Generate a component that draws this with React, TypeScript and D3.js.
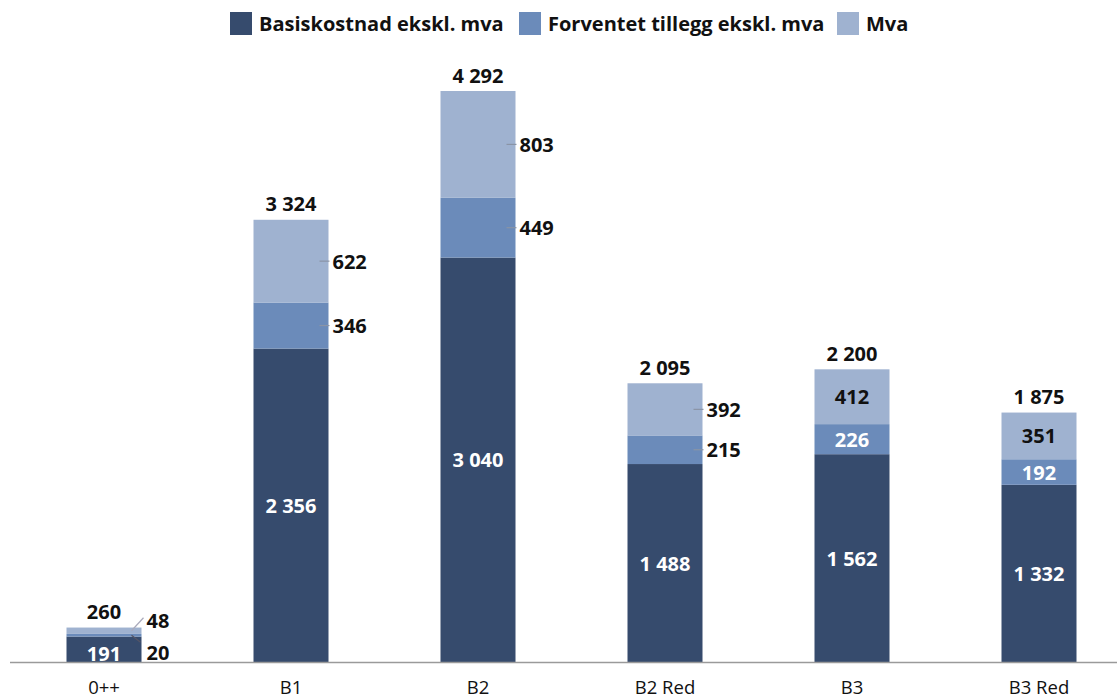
import React from "react";
import * as d3 from "d3";

const categories = ["0++", "B1", "B2", "B2 Red", "B3", "B3 Red"];
const basis = [191, 2356, 3040, 1488, 1562, 1332];
const tillegg = [20, 346, 449, 215, 226, 192];
const mva = [48, 622, 803, 392, 412, 351];
const totals = [260, 3324, 4292, 2095, 2200, 1875];
const seriesNames = ["Basiskostnad ekskl. mva", "Forventet tillegg ekskl. mva", "Mva"];
// label placement for the upper two segments: "diag" | "outside" | "inside"
const labelMode = ["diag", "outside", "outside", "outside", "inside", "inside"];

const colors = ["#364b6d", "#6b8bba", "#9fb2d0"];
const W = 1117, H = 700;
const FONT = "'Open Sans', Lato, sans-serif";
const FS = 20;

const locale = d3.formatLocale({ decimal: ",", thousands: "\u00a0", grouping: [3], currency: ["", " kr"] });
const fmt = locale.format(",d");

export default function App() {
  const baseY = 662;
  const x = d3.scaleBand<string>().domain(categories).range([10.5, 10.5 + 187 * 6]).paddingInner(0.6).paddingOuter(0.3);
  const y = d3.scaleLinear().domain([0, 4292]).range([baseY, 91]);
  const bw = 75;
  const data = categories.map((c, i) => ({ c, vals: [basis[i], tillegg[i], mva[i]], total: totals[i], mode: labelMode[i] }));

  const legendX = [230, 519, 837];

  return (
    <svg width={W} height={H} style={{ position: "absolute", left: 0, top: 0, background: "#fff" }} fontFamily={FONT}>
      {/* legend */}
      {seriesNames.map((n, i) => (
        <g key={n}>
          <rect x={legendX[i]} y={12} width={22} height={23} fill={colors[i]} />
          <text x={legendX[i] + 29} y={23} dominantBaseline="central" fontSize={FS} fontWeight="bold" fill="#111">{n}</text>
        </g>
      ))}
      {/* bars */}
      {data.map((d, i) => {
        const cx = (x(d.c) as number) + x.bandwidth() / 2;
        const left = cx - bw / 2;
        const right = cx + bw / 2;
        let acc = 0;
        const segs = d.vals.map((v) => {
          const y0 = y(acc);
          acc += v;
          const y1 = y(acc);
          return { v, y0, y1, mid: (y0 + y1) / 2 };
        });
        const topY = segs[2].y1;
        return (
          <g key={d.c}>
            {segs.map((s, k) => (
              <rect key={k} x={left} y={s.y1} width={bw} height={s.y0 - s.y1} fill={colors[k]} />
            ))}
            {/* base label */}
            <text x={cx} y={d.mode === "diag" ? segs[0].mid + 4 : segs[0].mid} textAnchor="middle" dominantBaseline="central" fontSize={FS} fontWeight="bold" fill="#fff">{fmt(d.vals[0])}</text>
            {/* upper labels */}
            {d.mode === "inside" && (
              <>
                <text x={cx} y={segs[1].mid} textAnchor="middle" dominantBaseline="central" fontSize={FS} fontWeight="bold" fill="#fff">{fmt(d.vals[1])}</text>
                <text x={cx} y={segs[2].mid} textAnchor="middle" dominantBaseline="central" fontSize={FS} fontWeight="bold" fill="#111">{fmt(d.vals[2])}</text>
              </>
            )}
            {d.mode === "outside" && segs.slice(1).map((s, k) => (
              <g key={k}>
                <line x1={right - 9} x2={right + 1} y1={s.mid} y2={s.mid} stroke="#8a94a6" strokeWidth={1.2} />
                <text x={right + 4} y={s.mid} dominantBaseline="central" fontSize={FS} fontWeight="bold" fill="#111">{fmt(d.vals[k + 1])}</text>
              </g>
            ))}
            {d.mode === "diag" && (
              <>
                <line x1={right - 10} x2={right + 2} y1={segs[2].mid} y2={segs[2].mid - 13} stroke="#aab" strokeWidth={1.2} />
                <text x={right + 5} y={segs[2].mid - 10} dominantBaseline="central" fontSize={FS} fontWeight="bold" fill="#111">{fmt(d.vals[2])}</text>
                <line x1={right - 10} x2={right - 1} y1={segs[1].mid} y2={segs[1].mid + 7} stroke="#556" strokeWidth={1.2} />
                <text x={right + 5} y={segs[1].mid + 17} dominantBaseline="central" fontSize={FS} fontWeight="bold" fill="#111">{fmt(d.vals[1])}</text>
              </>
            )}
            {/* total */}
            <text x={cx} y={topY - 16} textAnchor="middle" dominantBaseline="central" fontSize={FS} fontWeight="bold" fill="#111">{fmt(d.total)}</text>
            {/* category */}
            <text x={cx} y={694} textAnchor="middle" fontSize={18.5} fill="#111">{d.c}</text>
          </g>
        );
      })}
      <line x1={10} x2={W} y1={baseY + 0.5} y2={baseY + 0.5} stroke="#9a9a9a" strokeWidth={1.5} />
    </svg>
  );
}
